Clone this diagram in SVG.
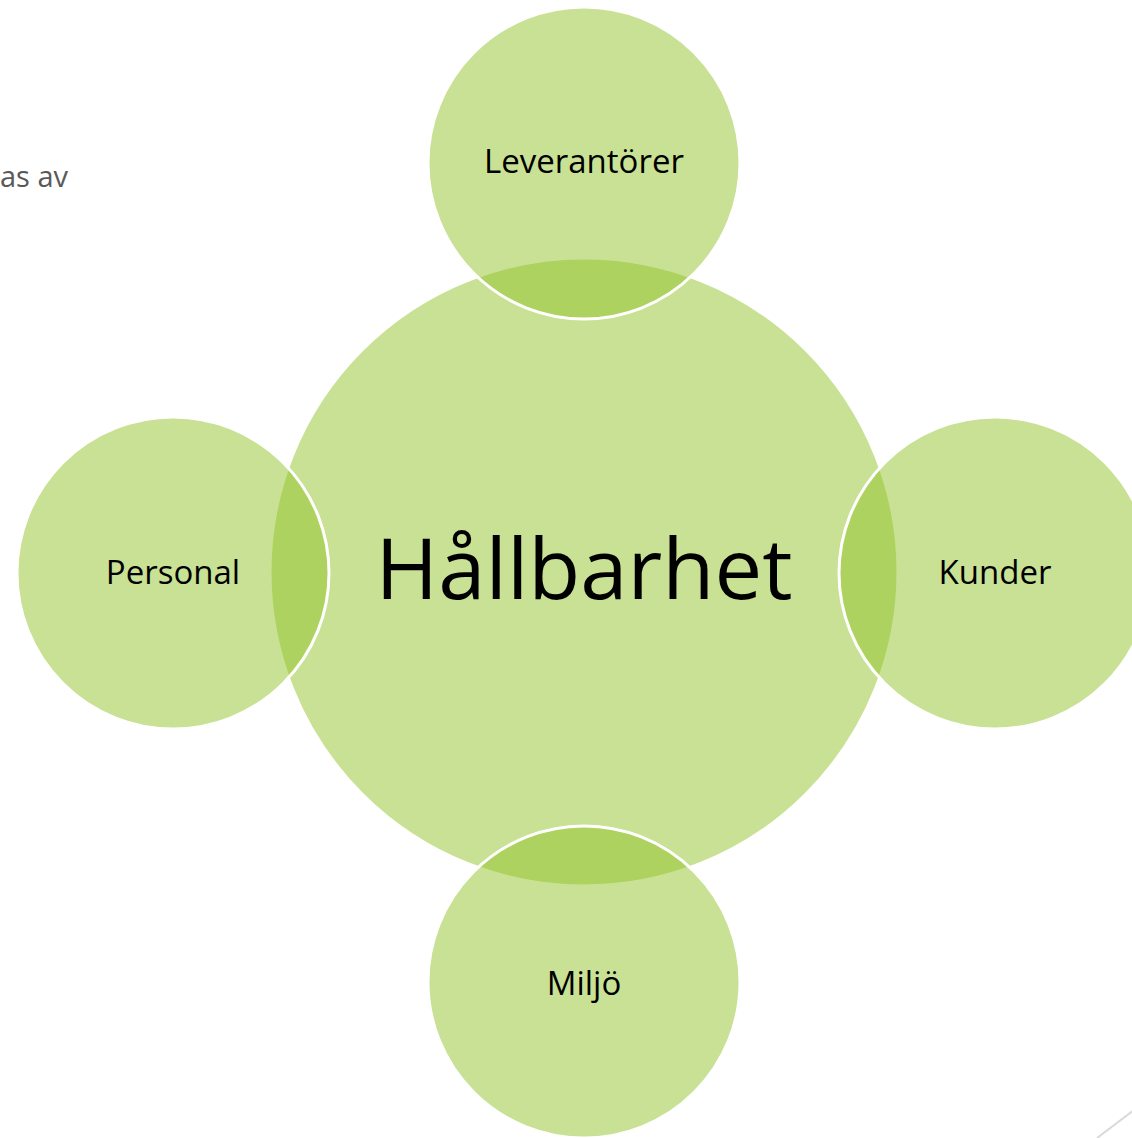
<svg xmlns="http://www.w3.org/2000/svg" width="1132" height="1138" viewBox="0 0 1132 1138">
<style>
.c{fill:#93c329;fill-opacity:0.5;stroke:#ffffff;stroke-width:3}
.t{font-family:"Open Sans","Noto Sans","DejaVu Sans",sans-serif;fill:#000;text-anchor:middle;dominant-baseline:central}
.s{font-size:33px}
</style>
<rect width="1132" height="1138" fill="#ffffff"/>
<text x="0" y="187" font-family="Open Sans, DejaVu Sans, sans-serif" font-size="29" fill="#595959">as av</text>
<line x1="1097" y1="1138" x2="1134" y2="1110" stroke="#d9d9d9" stroke-width="2"/>
<g id="hallbarhet">
<circle class="c" cx="584" cy="572" r="314"/>
<text class="t" x="584" y="566" font-size="85">Hållbarhet</text>
</g>
<g id="leverantorer">
<circle class="c" cx="584" cy="163" r="156"/>
<text class="t s" x="584" y="160">Leverantörer</text>
</g>
<g id="personal">
<circle class="c" cx="173" cy="573" r="156"/>
<text class="t s" x="173" y="571">Personal</text>
</g>
<g id="kunder">
<circle class="c" cx="995" cy="573" r="156"/>
<text class="t s" x="995" y="571">Kunder</text>
</g>
<g id="miljo">
<circle class="c" cx="584" cy="982" r="156"/>
<text class="t s" x="584" y="982">Miljö</text>
</g>
<g id="connectors"></g>
</svg>
